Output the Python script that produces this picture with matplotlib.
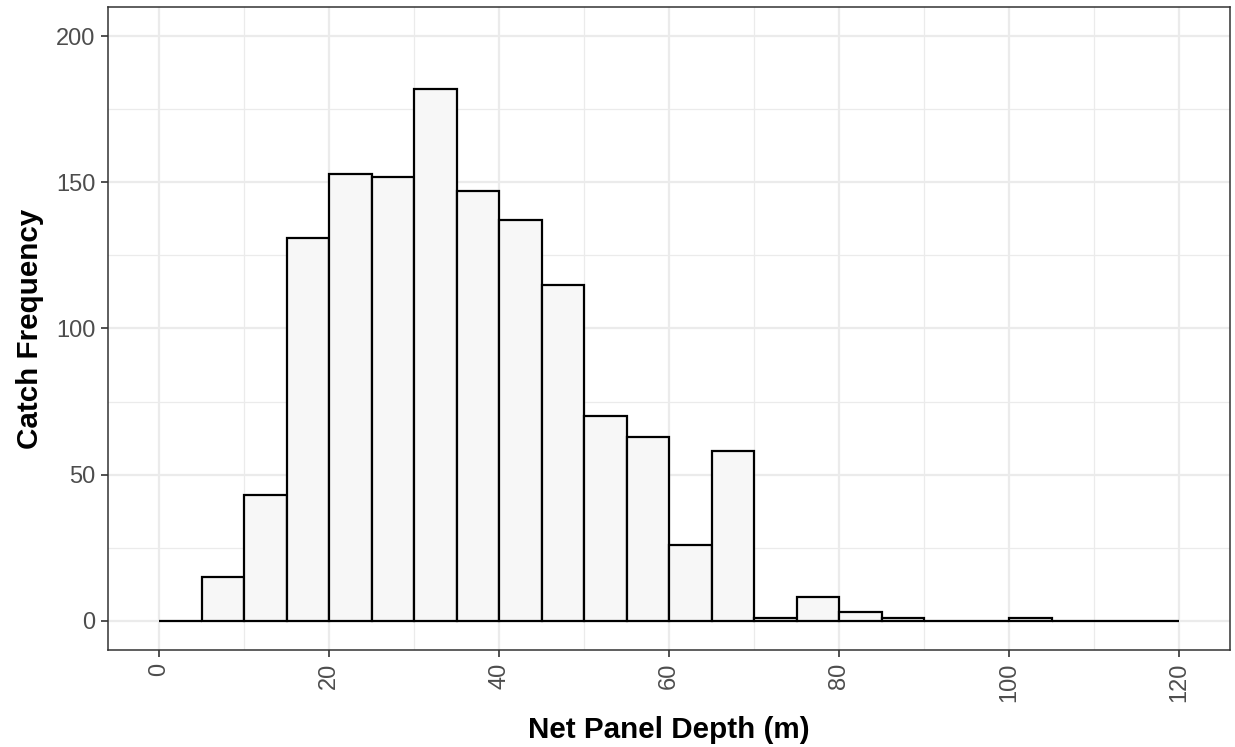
import matplotlib
matplotlib.use("Agg")
import matplotlib.pyplot as plt
import numpy as np

plt.rcParams['font.family'] = ['Liberation Sans', 'DejaVu Sans']

bin_left = [0, 5, 10, 15, 20, 25, 30, 35, 40, 45, 50, 55, 60, 65, 70, 75, 80, 85, 90, 95, 100, 105, 110, 115]
counts = [0, 15, 43, 131, 153, 152, 182, 147, 137, 115, 70, 63, 26, 58, 1, 8, 3, 1, 0, 0, 1, 0, 0, 0]
bin_width = 5
x_ticks = [0, 20, 40, 60, 80, 100, 120]
y_ticks = [0, 50, 100, 150, 200]

fig = plt.figure(figsize=(12.35, 7.47), dpi=100)
ax = fig.add_axes([108/1235, 97/747, (1230-108)/1235, (650-7)/747])

grid_c = '#EBEBEB'
for v in [10, 30, 50, 70, 90, 110]:
    ax.axvline(v, color=grid_c, lw=0.9, zorder=0)
for v in [25, 75, 125, 175]:
    ax.axhline(v, color=grid_c, lw=0.9, zorder=0)
for v in x_ticks:
    ax.axvline(v, color=grid_c, lw=1.6, zorder=0)
for v in y_ticks:
    ax.axhline(v, color=grid_c, lw=1.6, zorder=0)

ax.bar(bin_left, counts, width=bin_width, align='edge', color='#F7F7F7',
       edgecolor='black', linewidth=1.6, zorder=2)

ax.set_xlim(-6, 126)
ax.set_ylim(-10, 210)
ax.set_xticks(x_ticks)
ax.set_yticks(y_ticks)
ax.set_xticklabels([str(v) for v in x_ticks], rotation=90)
ax.tick_params(axis='both', colors='#333333', labelcolor='#4D4D4D',
               labelsize=17, length=5, width=1.2, pad=4)
for s in ax.spines.values():
    s.set_color('#333333')
    s.set_linewidth(1.1)

ax.set_xlabel('Net Panel Depth (m)', fontsize=21.3, fontweight='bold', labelpad=10)
ax.set_ylabel('Catch Frequency', fontsize=21.3, fontweight='bold', labelpad=9)

fig.savefig('out.png', dpi=100)
